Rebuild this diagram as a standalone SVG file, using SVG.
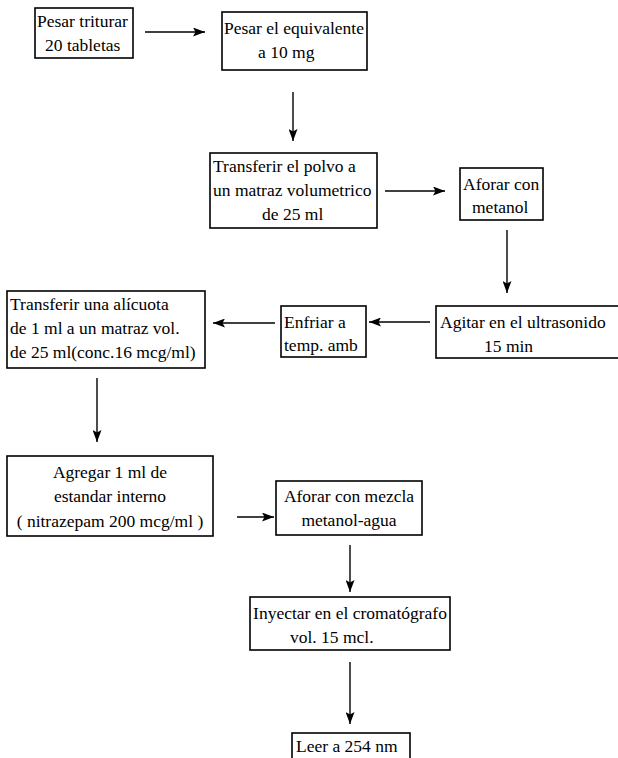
<svg xmlns="http://www.w3.org/2000/svg" width="618" height="758" viewBox="0 0 618 758">
  <defs>
    <marker id="arrow" viewBox="0 0 12 9" refX="12" refY="4.5" markerWidth="12" markerHeight="9" markerUnits="userSpaceOnUse" orient="auto">
      <path d="M0,0 L12,4.5 L0,9 L2.5,4.5 Z" fill="#000"/>
    </marker>
    <style>
      .box { fill: #fff; stroke: #000; stroke-width: 1.6; }
      .t { font-family: "Liberation Serif", "Times New Roman", serif; font-size: 17.5px; fill: #000; }
      .c { text-anchor: middle; }
      .link { stroke: #000; stroke-width: 1.4; fill: none; marker-end: url(#arrow); }
    </style>
  </defs>
  <rect width="618" height="758" fill="#fff"/>

  <g id="connectors">
    <line class="link" x1="145" y1="32" x2="205" y2="32"/>
    <line class="link" x1="293" y1="92" x2="293" y2="141"/>
    <line class="link" x1="385" y1="191" x2="445" y2="191"/>
    <line class="link" x1="507" y1="230" x2="507" y2="293"/>
    <line class="link" x1="430" y1="322" x2="369" y2="322"/>
    <line class="link" x1="275" y1="323" x2="213" y2="323"/>
    <line class="link" x1="97" y1="378" x2="97" y2="442"/>
    <line class="link" x1="237" y1="517" x2="274" y2="517"/>
    <line class="link" x1="350" y1="545" x2="350" y2="592"/>
    <line class="link" x1="350" y1="662" x2="350" y2="724"/>
  </g>

  <g id="n1">
    <rect class="box" x="35" y="8" width="98" height="50"/>
    <text class="t" x="37" y="27">Pesar triturar</text>
    <text class="t" x="45" y="51">20 tabletas</text>
  </g>

  <g id="n2">
    <rect class="box" x="222" y="12" width="145" height="58"/>
    <text class="t" x="224" y="34">Pesar el equivalente</text>
    <text class="t" x="258" y="58">a 10 mg</text>
  </g>

  <g id="n3">
    <rect class="box" x="210" y="153" width="167" height="75"/>
    <text class="t" x="213" y="172">Transferir el polvo a</text>
    <text class="t" x="213" y="196">un matraz volumetrico</text>
    <text class="t" x="262" y="220">de 25 ml</text>
  </g>

  <g id="n4">
    <rect class="box" x="460" y="168" width="83" height="52"/>
    <text class="t" x="463" y="190">Aforar con</text>
    <text class="t" x="472" y="213">metanol</text>
  </g>

  <g id="n5">
    <rect class="box" x="436" y="306" width="190" height="52"/>
    <text class="t" x="440" y="328">Agitar en el ultrasonido</text>
    <text class="t" x="484" y="352">15 min</text>
  </g>

  <g id="n6">
    <rect class="box" x="281" y="306" width="85" height="51"/>
    <text class="t" x="284" y="328">Enfriar a</text>
    <text class="t" x="284" y="351">temp. amb</text>
  </g>

  <g id="n7">
    <rect class="box" x="7" y="291" width="198" height="77"/>
    <text class="t" x="10" y="310">Transferir una alícuota</text>
    <text class="t" x="10" y="334">de 1 ml a un matraz vol.</text>
    <text class="t" x="10" y="358">de 25 ml(conc.16 mcg/ml)</text>
  </g>

  <g id="n8">
    <rect class="box" x="7" y="456" width="206" height="80"/>
    <text class="t c" x="110" y="478">Agregar 1 ml de</text>
    <text class="t c" x="110" y="502">estandar interno</text>
    <text class="t c" x="110" y="527">( nitrazepam 200 mcg/ml )</text>
  </g>

  <g id="n9">
    <rect class="box" x="276" y="481" width="146" height="54"/>
    <text class="t c" x="349" y="502">Aforar con mezcla</text>
    <text class="t c" x="349" y="526">metanol-agua</text>
  </g>

  <g id="n10">
    <rect class="box" x="250" y="597" width="200" height="53"/>
    <text class="t c" x="350" y="619">Inyectar en el cromatógrafo</text>
    <text class="t" x="290" y="643">vol. 15 mcl.</text>
  </g>

  <g id="n11">
    <rect class="box" x="292" y="733" width="118" height="30"/>
    <text class="t" x="296" y="752">Leer a 254 nm</text>
  </g>
</svg>
